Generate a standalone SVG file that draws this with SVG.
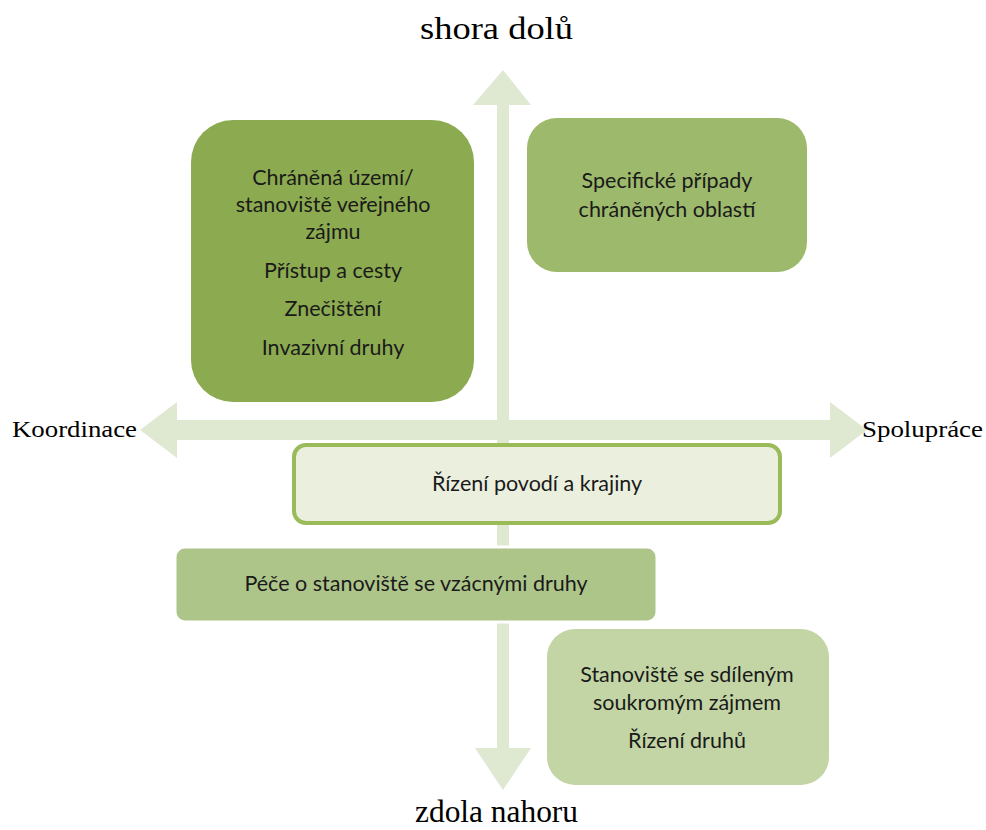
<svg xmlns="http://www.w3.org/2000/svg" width="986" height="830" viewBox="0 0 986 830">
<style>
.axis{fill:#dfe8d1}
.lbl{font-family:"Liberation Serif","Times New Roman",serif;fill:#000}
.big{font-size:32px}
.side{font-size:24px}
.t{font-family:Lato,"Liberation Sans",sans-serif;font-size:21.5px;fill:#1a1a1a;text-anchor:middle}
</style>
<g id="connectors">
<polygon class="axis" points="497,105 473,105 503,70 531,105 509,105 509,748 531,748 503,790 475,748 497,748"/>
<polygon class="axis" points="177,420 177,402 140,430 177,458 177,440 830,440 830,458 867,430 830,402 830,420"/>
</g>
<g id="n-top"><text class="lbl big" x="420" y="39" textLength="153" lengthAdjust="spacingAndGlyphs">shora dolů</text></g>
<g id="n-bottom"><text class="lbl big" x="415" y="822" textLength="163" lengthAdjust="spacingAndGlyphs">zdola nahoru</text></g>
<g id="n-left"><text class="lbl side" x="12" y="437" textLength="125" lengthAdjust="spacingAndGlyphs">Koordinace</text></g>
<g id="n-right"><text class="lbl side" x="862" y="437" textLength="121" lengthAdjust="spacingAndGlyphs">Spolupráce</text></g>
<g id="n-public">
<rect x="191" y="120" width="283" height="282" rx="42" fill="#8cab50"/>
<text class="t" x="333" y="185">Chráněná území/</text>
<text class="t" x="333" y="212">stanoviště veřejného</text>
<text class="t" x="333" y="239">zájmu</text>
<text class="t" x="333" y="278">Přístup a cesty</text>
<text class="t" x="333" y="316">Znečištění</text>
<text class="t" x="333" y="355">Invazivní druhy</text>
</g>
<g id="n-specific">
<rect x="527" y="118" width="280" height="154" rx="30" fill="#9db96b"/>
<text class="t" x="667" y="188">Specifické případy</text>
<text class="t" x="667" y="217">chráněných oblastí</text>
</g>
<g id="n-basin">
<rect x="294" y="445" width="486" height="78" rx="12" fill="#ebf0de" stroke="#9bbb59" stroke-width="4"/>
<text class="t" x="537" y="491">Řízení povodí a krajiny</text>
</g>
<g id="n-rare">
<rect x="175" y="547" width="482" height="75" rx="10" fill="#aec58a" stroke="#fff" stroke-width="3"/>
<text class="t" x="416" y="591">Péče o stanoviště se vzácnými druhy</text>
</g>
<g id="n-private">
<rect x="547" y="629" width="282" height="156" rx="28" fill="#c3d5a5"/>
<text class="t" x="687" y="682">Stanoviště se sdíleným</text>
<text class="t" x="687" y="710">soukromým zájmem</text>
<text class="t" x="687" y="748">Řízení druhů</text>
</g>
</svg>
